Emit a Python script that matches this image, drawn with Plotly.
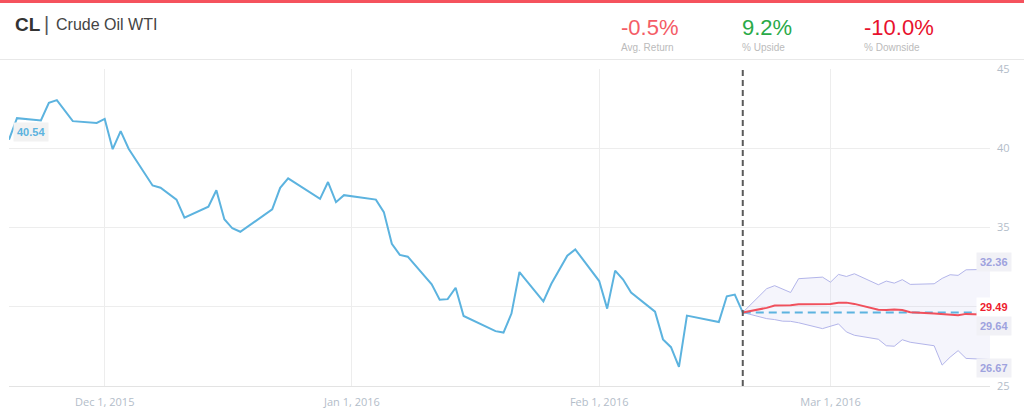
import plotly.graph_objects as go

# ---------------- data ----------------
hist_dates = ["2015-11-19", "2015-11-20", "2015-11-23", "2015-11-24", "2015-11-25", "2015-11-27",
              "2015-11-30", "2015-12-01", "2015-12-02", "2015-12-03", "2015-12-04", "2015-12-07",
              "2015-12-08", "2015-12-09", "2015-12-10", "2015-12-11", "2015-12-14", "2015-12-15",
              "2015-12-16", "2015-12-17", "2015-12-18", "2015-12-22", "2015-12-23", "2015-12-24",
              "2015-12-28", "2015-12-29", "2015-12-30", "2015-12-31", "2016-01-04", "2016-01-05",
              "2016-01-06", "2016-01-07", "2016-01-08", "2016-01-11", "2016-01-12", "2016-01-13",
              "2016-01-14", "2016-01-15", "2016-01-19", "2016-01-20", "2016-01-21", "2016-01-22",
              "2016-01-25", "2016-01-26", "2016-01-27", "2016-01-28", "2016-01-29", "2016-02-01",
              "2016-02-02", "2016-02-03", "2016-02-04", "2016-02-05", "2016-02-08", "2016-02-09",
              "2016-02-10", "2016-02-11", "2016-02-12", "2016-02-16", "2016-02-17", "2016-02-18",
              "2016-02-19"]
hist_close = [40.54, 41.90, 41.75, 42.87, 43.04, 41.71,
              41.60, 41.85, 39.94, 41.08, 39.97, 37.65,
              37.51, 37.16, 36.76, 35.62, 36.31, 37.35,
              35.52, 34.95, 34.73, 36.14, 37.50, 38.10,
              36.81, 37.87, 36.60, 37.04, 36.76, 35.97,
              33.97, 33.27, 33.16, 31.41, 30.44, 30.48,
              31.20, 29.42, 28.46, 28.37, 29.57, 32.19,
              30.34, 31.45, 32.30, 33.22, 33.62, 31.62,
              29.88, 32.28, 31.72, 30.89, 29.69, 27.94,
              27.45, 26.21, 29.44, 29.04, 30.66, 30.77,
              29.64]

fc_dates = ["2016-02-19", "2016-02-22", "2016-02-23", "2016-02-24", "2016-02-25", "2016-02-26",
            "2016-02-29", "2016-03-01", "2016-03-02", "2016-03-03", "2016-03-04", "2016-03-07",
            "2016-03-08", "2016-03-09", "2016-03-10", "2016-03-11", "2016-03-14", "2016-03-15",
            "2016-03-16", "2016-03-17", "2016-03-18", "2016-03-21"]
fc_mean = [29.64, 29.93, 30.08, 30.07, 30.09, 30.15, 30.20, 30.18, 30.25, 30.26, 30.18,
           29.81, 29.79, 29.82, 29.79, 29.65, 29.57, 29.54, 29.49, 29.46, 29.55, 29.49]
fc_upper = [29.64, 31.14, 31.33, 31.10, 30.90, 31.77, 31.87, 31.55, 32.04, 31.91, 32.08,
            31.39, 31.62, 31.49, 31.71, 31.41, 31.45, 31.79, 32.02, 31.98, 32.33, 32.36]
fc_lower = [29.64, 29.25, 29.19, 29.09, 29.08, 28.99, 28.62, 28.77, 28.92, 28.41, 28.20,
            27.95, 27.54, 27.51, 27.92, 27.76, 27.54, 26.32, 26.82, 27.23, 26.74, 26.67]
last_price = 29.64
forecast_end = 29.49
x_range = ["2015-11-19", "2016-03-21"]
y_ticks = [25, 30, 35, 40, 45]
y_tick_labels = ["25", "", "35", "40", "45"]   # "30" is hidden behind the 29.49 label
x_ticks = ["2015-12-01", "2016-01-01", "2016-02-01", "2016-03-01"]
x_tick_labels = ["Dec 1, 2015", "Jan 1, 2016", "Feb 1, 2016", "Mar 1, 2016"]

ticker = "CL"
name = "Crude Oil WTI"
stats = [("-0.5%", "Avg. Return", "#f45c66"),
         ("9.2%", "% Upside", "#2aaa48"),
         ("-10.0%", "% Downside", "#e8112d")]

# ---------------- layout helpers ----------------
W, H = 1024, 419
ML, MR, MT, MB = 9, 34, 69, 33
PW, PH = W - ML - MR, H - MT - MB


def px(x):
    return (x - ML) / PW


def py(y):
    return (H - MB - y) / PH


BLUE = "#5cb3df"
RED = "#f0505c"
BAND = "#b3b5ea"
TICKFONT = dict(family="Liberation Sans Narrow, Open Sans, sans-serif", size=11, color="#b3bdc9")

fig = go.Figure()

fig.add_trace(go.Scatter(x=fc_dates, y=fc_upper, mode="lines",
                         line=dict(color=BAND, width=1), hoverinfo="skip"))
fig.add_trace(go.Scatter(x=fc_dates, y=fc_lower, mode="lines", fill="tonexty",
                         fillcolor="rgba(200,200,240,0.18)",
                         line=dict(color=BAND, width=1), hoverinfo="skip"))
fig.add_trace(go.Scatter(x=[fc_dates[0], fc_dates[-1]], y=[last_price, last_price], mode="lines",
                         line=dict(color=BLUE, width=2, dash="8px,5px"), hoverinfo="skip"))
fig.add_trace(go.Scatter(x=fc_dates, y=fc_mean, mode="lines",
                         line=dict(color=RED, width=2), hoverinfo="skip"))
fig.add_trace(go.Scatter(x=hist_dates, y=hist_close, mode="lines",
                         line=dict(color=BLUE, width=2), hoverinfo="skip"))

shapes = [
    # top red bar
    dict(type="rect", xref="paper", yref="paper", x0=px(0), x1=px(W), y0=py(3), y1=py(0),
         fillcolor="#f5525d", line=dict(width=0), layer="above"),
    # header separator
    dict(type="line", xref="paper", yref="paper", x0=px(0), x1=px(W), y0=py(59.5), y1=py(59.5),
         line=dict(color="#e8e8e8", width=1)),
    # forecast start dashed line
    dict(type="line", xref="x", yref="paper", x0=hist_dates[-1], x1=hist_dates[-1], y0=0, y1=1,
         line=dict(color="#5a5a5a", width=2, dash="6px,4px"), layer="above"),
]

ann = []
# header
ann.append(dict(text="<b>" + ticker + "</b>", x=px(13), y=py(25), xanchor="left", yanchor="middle",
                font=dict(family="Liberation Sans, Arial, sans-serif", size=19, color="#333333")))
ann.append(dict(text="|", x=px(42), y=py(24), xanchor="left", yanchor="middle",
                font=dict(family="Liberation Sans, Arial, sans-serif", size=20, color="#555555")))
ann.append(dict(text=name, x=px(54), y=py(25), xanchor="left", yanchor="middle",
                font=dict(family="Liberation Sans, Arial, sans-serif", size=16, color="#444444")))
stat_x = [619, 740, 862]
for (val, lab, col), sx in zip(stats, stat_x):
    ann.append(dict(text=val, x=px(sx), y=py(28), xanchor="left", yanchor="middle",
                    font=dict(family="Liberation Sans, Arial, sans-serif", size=22, color=col)))
    ann.append(dict(text=lab, x=px(sx), y=py(48), xanchor="left", yanchor="middle",
                    font=dict(family="Liberation Sans, Arial, sans-serif", size=10, color="#bbbbbb")))

# value labels
LABF = "Liberation Sans, Arial, sans-serif"
ann.append(dict(text="<b>%.2f</b>" % hist_close[0], x=px(31), y=py(131.5), xanchor="center",
                yanchor="middle", bgcolor="#f2f2f2", borderpad=3,
                font=dict(family=LABF, size=11, color=BLUE)))
right_labels = [
    ("%.2f" % fc_upper[-1], 261.5, "#9ea2de", "#f1f1f6"),
    ("%.2f" % forecast_end, 306.5, "#ee1c2e", "#ffffff"),
    ("%.2f" % last_price, 326.0, "#9ea2de", "#f1f1f6"),
    ("%.2f" % fc_lower[-1], 368.0, "#9ea2de", "#f1f1f6"),
]
for txt, yy, fc, bg in right_labels:
    ann.append(dict(text="<b>" + txt + "</b>", x=px(993.5), y=py(yy), xanchor="center",
                    yanchor="middle", bgcolor=bg, borderpad=3,
                    font=dict(family=LABF, size=11, color=fc)))

for a in ann:
    a.update(xref="paper", yref="paper", showarrow=False)

fig.update_layout(
    width=W, height=H,
    margin=dict(l=ML, r=MR, t=MT, b=MB, pad=0),
    paper_bgcolor="white", plot_bgcolor="white",
    showlegend=False,
    shapes=shapes, annotations=ann,
    xaxis=dict(type="date", range=x_range, tickvals=x_ticks, ticktext=x_tick_labels,
               showgrid=True, gridcolor="#ededed", gridwidth=1, zeroline=False,
               showline=True, linecolor="#e3e3e3", linewidth=1, ticks="",
               tickfont=TICKFONT, ticklabelstandoff=6),
    yaxis=dict(range=[25, 45], tickvals=y_ticks, ticktext=y_tick_labels, side="right",
               showgrid=True, gridcolor="#ededed", gridwidth=1, zeroline=False, showline=False,
               ticks="", tickfont=TICKFONT, ticklabelstandoff=6),
)

fig.write_html("out.html", config={"displayModeBar": False},
               post_script="document.body.style.margin='0';document.body.style.overflow='hidden';")
